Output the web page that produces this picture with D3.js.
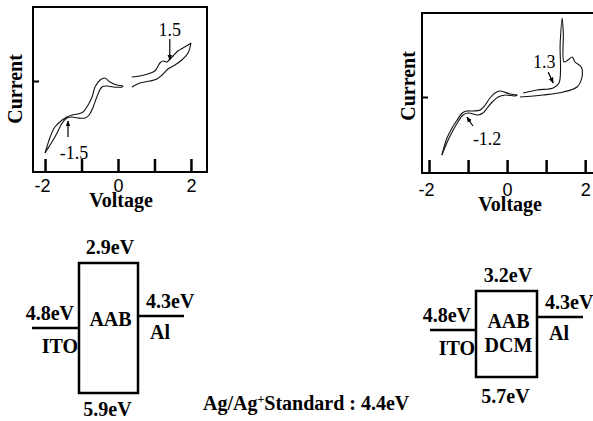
<!DOCTYPE html>
<html lang="en">
<head>
<meta charset="utf-8"/>
<style>
  body { margin: 0; background: #fff; }
  svg { display: block; font-family: "Liberation Serif", "Times New Roman", serif; }
  .frame { fill: none; stroke: #000; stroke-width: 2; }
  .cv { fill: none; stroke: #111; stroke-width: 1.1; }
  .lbl { font-weight: bold; font-size: 20px; fill: #000; }
  .num { font-size: 18px; fill: #000; }
  .lvl { fill: none; stroke: #000; stroke-width: 2.5; }
</style>
</head>
<body>
<svg id="chart" width="593" height="421"></svg>
<script src="https://d3js.org/d3.v7.min.js"></script>
<script>
// cyclic voltammograms, [voltage, current (arb.)]
const aabReduceUp = [[0.14,-0.5],[-0.03,-0.4],[-0.22,-0.1],[-0.36,0.3],[-0.49,0.1],[-0.63,-0.6],[-0.71,-1.6],[-0.82,-2.4],[-0.96,-3.1],[-1.10,-3.3],[-1.26,-3.4],[-1.40,-3.6],[-1.53,-3.9],[-1.73,-4.6],[-1.86,-5.6],[-1.95,-6.6],[-2.0,-7.2]]
const aabReduceDown = [[0.14,-0.5],[0.11,-0.6],[-0.14,-0.6],[-0.30,-0.5],[-0.44,-0.6],[-0.58,-1.6],[-0.68,-2.6],[-0.79,-3.4],[-0.90,-3.7],[-1.10,-3.7],[-1.26,-3.6],[-1.40,-3.7],[-1.53,-4.2],[-1.67,-5.2],[-1.81,-6.1],[-1.95,-6.9],[-2.0,-7.2]]
const aabOxidUp = [[0.38,0.4],[0.60,0.5],[0.82,0.7],[1.01,1.0],[1.10,1.5],[1.15,1.8],[1.23,2.0],[1.34,1.9],[1.40,2.1],[1.51,2.5],[1.64,3.0],[1.78,3.3],[1.92,3.6],[2.0,3.8]]
const aabOxidDown = [[0.38,-0.6],[0.60,-0.2],[0.88,0.0],[1.07,0.2],[1.21,0.6],[1.37,1.2],[1.56,1.6],[1.75,2.1],[1.92,2.8],[2.0,3.8]]

const dcmReduceUp = [[0.26,0.2],[0.08,0.3],[-0.18,0.6],[-0.31,0.4],[-0.44,-0.1],[-0.56,-0.8],[-0.69,-1.3],[-0.87,-1.4],[-1.03,-1.4],[-1.15,-1.6],[-1.28,-2.3],[-1.41,-3.1],[-1.54,-4.1],[-1.67,-5.8]]
const dcmReduceDown = [[0.26,0.2],[0.20,0.1],[-0.05,0.2],[-0.23,0.0],[-0.38,-0.5],[-0.51,-1.1],[-0.62,-1.6],[-0.74,-1.8],[-1.00,-1.6],[-1.13,-1.8],[-1.26,-2.5],[-1.38,-3.3],[-1.51,-4.3],[-1.64,-5.5],[-1.67,-5.8]]
const dcmOxidLoop = [[0.41,0.4],[0.77,0.7],[1.18,0.9],[1.33,1.4],[1.36,5.4],[1.41,7.9],[1.44,6.4],[1.46,3.5],[1.56,3.7],[1.67,4.0],[1.74,3.5],[1.90,3.0],[1.92,2.0],[1.79,1.0],[1.44,0.5],[0.92,0.2],[0.33,0.0]]

const voltTicks = [-2, -1, 0, 1, 2]
const voltLabels = ["-2", "", "0", "", "2"]

// onset markers: label, voltage & current of arrow tip
const aabNotes = [
  {text: "1.5", v: 1.42, i: 2.1, ax: 0, ay: -21, tx: 0, ty: -24, anchor: "middle"},
  {text: "-1.5", v: -1.37, i: -4.0, ax: 0, ay: 16, tx: 6, ty: 38, anchor: "middle"}
]
const dcmNotes = [
  {text: "1.3", v: 1.18, i: 1.4, ax: -5, ay: -11, tx: -9, ty: -15, anchor: "middle"},
  {text: "-1.2", v: -1.03, i: -2.0, ax: 6, ay: 9, tx: 6, ty: 28, anchor: "start"}
]

// energy levels (eV)
const layerNames = [["AAB"], ["AAB", "DCM"]]
const lumoEV = [2.9, 3.2]
const homoEV = [5.9, 5.7]
const itoEV = [4.8, 4.8]
const alEV = [4.3, 4.3]

let svg = d3.select("#chart")

svg.append("defs").append("marker")
  .attr("id", "arrow")
  .attr("viewBox", "0 0 10 10")
  .attr("refX", 9).attr("refY", 5)
  .attr("markerWidth", 5).attr("markerHeight", 5)
  .attr("orient", "auto")
  .append("path").attr("d", "M0,1L10,5L0,9z").attr("fill", "#000")

let plots = [
  {x0: 33, x1: 207, y0: 7, y1: 172, v: [-2.33, 2.44], c: [-9.1, 7.4], tickY: 192, titleY: 207, curX: 22, curY: 89,
   curves: [aabReduceUp, aabReduceDown, aabOxidUp, aabOxidDown], notes: aabNotes},
  {x0: 422, x1: 600, y0: 13, y1: 173, v: [-2.18, 2.38], c: [-7.6, 8.4], tickY: 196, titleY: 211, curX: 415, curY: 86,
   curves: [dcmReduceUp, dcmReduceDown, dcmOxidLoop], notes: dcmNotes}
]

plots.forEach(p => {
  let x = d3.scaleLinear().domain(p.v).range([p.x0, p.x1])
  let y = d3.scaleLinear().domain(p.c).range([p.y1, p.y0])
  let g = svg.append("g")

  g.append("rect").attr("class", "frame")
    .attr("x", p.x0).attr("y", p.y0)
    .attr("width", p.x1 - p.x0).attr("height", p.y1 - p.y0)

  let xa = g.append("g")
    .attr("transform", "translate(0," + p.y1 + ")")
    .call(d3.axisBottom(x).tickValues(voltTicks).tickSizeInner(-13).tickSizeOuter(0)
      .tickFormat((d, i) => voltLabels[i]))
  xa.select(".domain").remove()
  xa.selectAll("line").attr("stroke-width", 2.5)
  xa.selectAll("text").attr("class", "num").attr("y", p.tickY - p.y1).attr("dy", 0)
    .attr("dx", d => d < 0 ? -3 : 0)
    .attr("font-family", null).attr("font-size", null)

  let ya = g.append("g")
    .attr("transform", "translate(" + p.x0 + ",0)")
    .call(d3.axisLeft(y).tickValues([0]).tickSizeInner(-6).tickSizeOuter(0).tickFormat(""))
  ya.select(".domain").remove()
  ya.selectAll("line").attr("stroke-width", 2)

  g.append("text").attr("class", "lbl")
    .attr("x", (x(-2) + x(2)) / 2 + 3).attr("y", p.titleY)
    .attr("text-anchor", "middle").text("Voltage")
  g.append("text").attr("class", "lbl")
    .attr("transform", "translate(" + p.curX + "," + p.curY + ") rotate(-90)")
    .attr("text-anchor", "middle").text("Current")

  let line = d3.line().x(d => x(d[0])).y(d => y(d[1])).curve(d3.curveCatmullRom.alpha(0.5))
  g.selectAll("path.cv").data(p.curves).enter().append("path")
    .attr("class", "cv").attr("d", line)

  p.notes.forEach(n => {
    let px = x(n.v), py = y(n.i)
    g.append("line")
      .attr("x1", px + n.ax).attr("y1", py + n.ay)
      .attr("x2", px).attr("y2", py)
      .attr("stroke", "#000").attr("stroke-width", 1.2)
      .attr("marker-end", "url(#arrow)")
    g.append("text").attr("class", "num")
      .attr("x", px + n.tx).attr("y", py + n.ty)
      .attr("text-anchor", n.anchor).text(n.text)
  })
})

// band diagrams (schematic, not to scale)
let diagrams = [
  {bx0: 79, bx1: 138, lead0: 32, lead1: 184, ys: [263, 316, 328, 393]},
  {bx0: 476, bx1: 537, lead0: 430, lead1: 583, ys: [291, 317, 330, 377]}
]

diagrams.forEach((d, k) => {
  let e = d3.scaleLinear().domain([lumoEV[k], alEV[k], itoEV[k], homoEV[k]]).range(d.ys)
  let g = svg.append("g")
  let cx = (d.bx0 + d.bx1) / 2

  g.append("rect").attr("class", "lvl")
    .attr("x", d.bx0).attr("y", e(lumoEV[k]))
    .attr("width", d.bx1 - d.bx0).attr("height", e(homoEV[k]) - e(lumoEV[k]))
  g.append("line").attr("class", "lvl")
    .attr("x1", d.lead0).attr("x2", d.bx0).attr("y1", e(itoEV[k])).attr("y2", e(itoEV[k]))
  g.append("line").attr("class", "lvl")
    .attr("x1", d.bx1).attr("x2", d.lead1).attr("y1", e(alEV[k])).attr("y2", e(alEV[k]))

  let t = (x, y, s, anchor) => g.append("text").attr("class", "lbl")
    .attr("x", x).attr("y", y).attr("text-anchor", anchor).text(s)

  t(cx + 1.5, e(lumoEV[k]) - 9, lumoEV[k].toFixed(1) + "eV", "middle")
  t(cx - 1, Math.min(e(homoEV[k]) + 26, 416), homoEV[k].toFixed(1) + "eV", "middle")
  t(d.bx0 - 5, e(itoEV[k]) - 8, itoEV[k].toFixed(1) + "eV", "end")
  t(d.bx0 - 1, e(itoEV[k]) + 25, "ITO", "end")
  t(d.bx1 + 8, e(alEV[k]) - 8, alEV[k].toFixed(1) + "eV", "start")
  t(d.bx1 + 12, e(alEV[k]) + 23, "Al", "start")
  layerNames[k].forEach((nm, j) => t(cx + 2, e(itoEV[k]) - 2 + j * 24, nm, "middle"))
})

let std = svg.append("text").attr("class", "lbl").attr("x", 203).attr("y", 410)
std.append("tspan").text("Ag/Ag")
std.append("tspan").attr("font-size", "12px").attr("baseline-shift", "super").text("+")
std.append("tspan").text("Standard : 4.4eV")
</script>
</body>
</html>
